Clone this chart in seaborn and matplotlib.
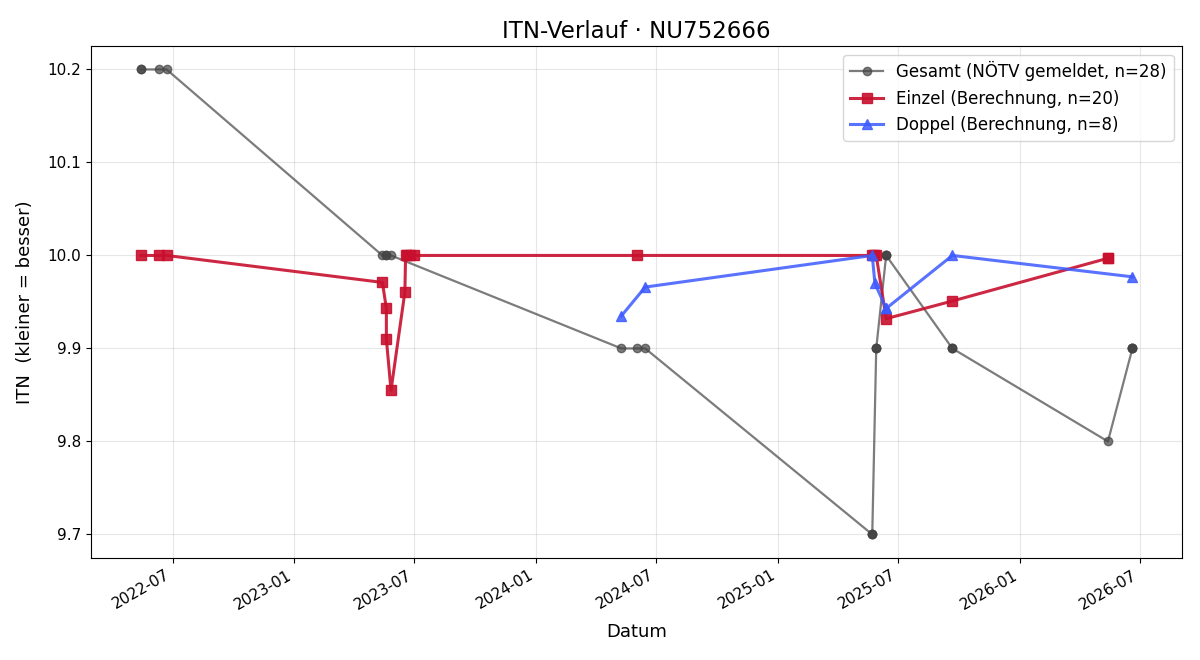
import matplotlib
matplotlib.use("Agg")
import matplotlib.pyplot as plt
import matplotlib.dates as mdates
import seaborn as sns
import pandas as pd

# Gesamt (NÖTV gemeldet)
gesamt_dates = ["2022-05-14", "2022-05-14", "2022-06-10", "2022-06-22",
                "2023-05-14", "2023-05-20", "2023-05-20", "2023-05-27",
                "2024-05-09", "2024-06-01", "2024-06-14",
                "2025-05-23", "2025-05-23", "2025-05-23",
                "2025-05-29", "2025-05-29", "2025-05-29",
                "2025-06-13", "2025-06-13", "2025-06-13",
                "2025-09-21", "2025-09-21", "2025-09-21",
                "2026-05-14",
                "2026-06-20", "2026-06-20", "2026-06-20", "2026-06-20"]
gesamt_itn = [10.2, 10.2, 10.2, 10.2,
              10.0, 10.0, 10.0, 10.0,
              9.9, 9.9, 9.9,
              9.7, 9.7, 9.7,
              9.9, 9.9, 9.9,
              10.0, 10.0, 10.0,
              9.9, 9.9, 9.9,
              9.8,
              9.9, 9.9, 9.9, 9.9]

# Einzel (Berechnung)
einzel_dates = ["2022-05-14", "2022-06-10", "2022-06-22",
                "2023-05-14", "2023-05-20", "2023-05-20", "2023-05-27",
                "2023-06-17", "2023-06-18", "2023-06-20", "2023-06-25", "2023-07-01",
                "2024-06-01",
                "2025-05-23", "2025-05-26", "2025-05-29",
                "2025-06-13",
                "2025-09-21",
                "2026-05-14", "2026-05-14"]
einzel_itn = [10.0, 10.0, 10.0,
              9.971, 9.943, 9.910, 9.855,
              9.961, 10.0, 10.0, 10.0, 10.0,
              10.0,
              10.0, 10.0, 10.0,
              9.932,
              9.951,
              9.997, 9.997]

# Doppel (Berechnung)
doppel_dates = ["2024-05-09", "2024-06-14",
                "2025-05-23", "2025-05-27", "2025-06-13", "2025-06-13",
                "2025-09-21", "2026-06-20"]
doppel_itn = [9.935, 9.966,
              10.0, 9.970, 9.943, 9.943,
              10.0, 9.977]

df_g = pd.DataFrame({"Datum": pd.to_datetime(gesamt_dates), "ITN": gesamt_itn})
df_e = pd.DataFrame({"Datum": pd.to_datetime(einzel_dates), "ITN": einzel_itn})
df_d = pd.DataFrame({"Datum": pd.to_datetime(doppel_dates), "ITN": doppel_itn})

fig, ax = plt.subplots(figsize=(12, 6.6), dpi=100)

c_g, c_e, c_d = "#444444", "#C8102E", "#3D5AFE"
sns.lineplot(data=df_g, x="Datum", y="ITN", ax=ax, estimator=None, sort=False,
             color=c_g, alpha=0.7, linewidth=1.6, marker="o", markersize=6,
             markeredgecolor=c_g, markeredgewidth=1.0,
             label="Gesamt (NÖTV gemeldet, n=28)")
sns.lineplot(data=df_e, x="Datum", y="ITN", ax=ax, estimator=None, sort=False,
             color=c_e, alpha=0.9, linewidth=2.2, marker="s", markersize=7,
             markeredgecolor=c_e, markeredgewidth=1.0,
             label="Einzel (Berechnung, n=20)")
sns.lineplot(data=df_d, x="Datum", y="ITN", ax=ax, estimator=None, sort=False,
             color=c_d, alpha=0.85, linewidth=2.2, marker="^", markersize=7,
             markeredgecolor=c_d, markeredgewidth=1.0,
             label="Doppel (Berechnung, n=8)")

ax.set_title("ITN-Verlauf · NU752666", fontsize=16.5)
ax.set_xlabel("Datum", fontsize=13, labelpad=8)
ax.set_ylabel("ITN  (kleiner = besser)", fontsize=13, labelpad=10)
ax.xaxis.set_major_locator(mdates.MonthLocator(bymonth=[1, 7]))
ax.xaxis.set_major_formatter(mdates.DateFormatter("%Y-%m"))
ax.set_yticks([9.7, 9.8, 9.9, 10.0, 10.1, 10.2])
ax.tick_params(labelsize=11)
ax.grid(True, alpha=0.3)
ax.legend(loc="upper right", fontsize=12)
fig.autofmt_xdate()
fig.subplots_adjust(left=0.076, right=0.985, top=0.93, bottom=0.155)
fig.savefig("out.png", dpi=100)
